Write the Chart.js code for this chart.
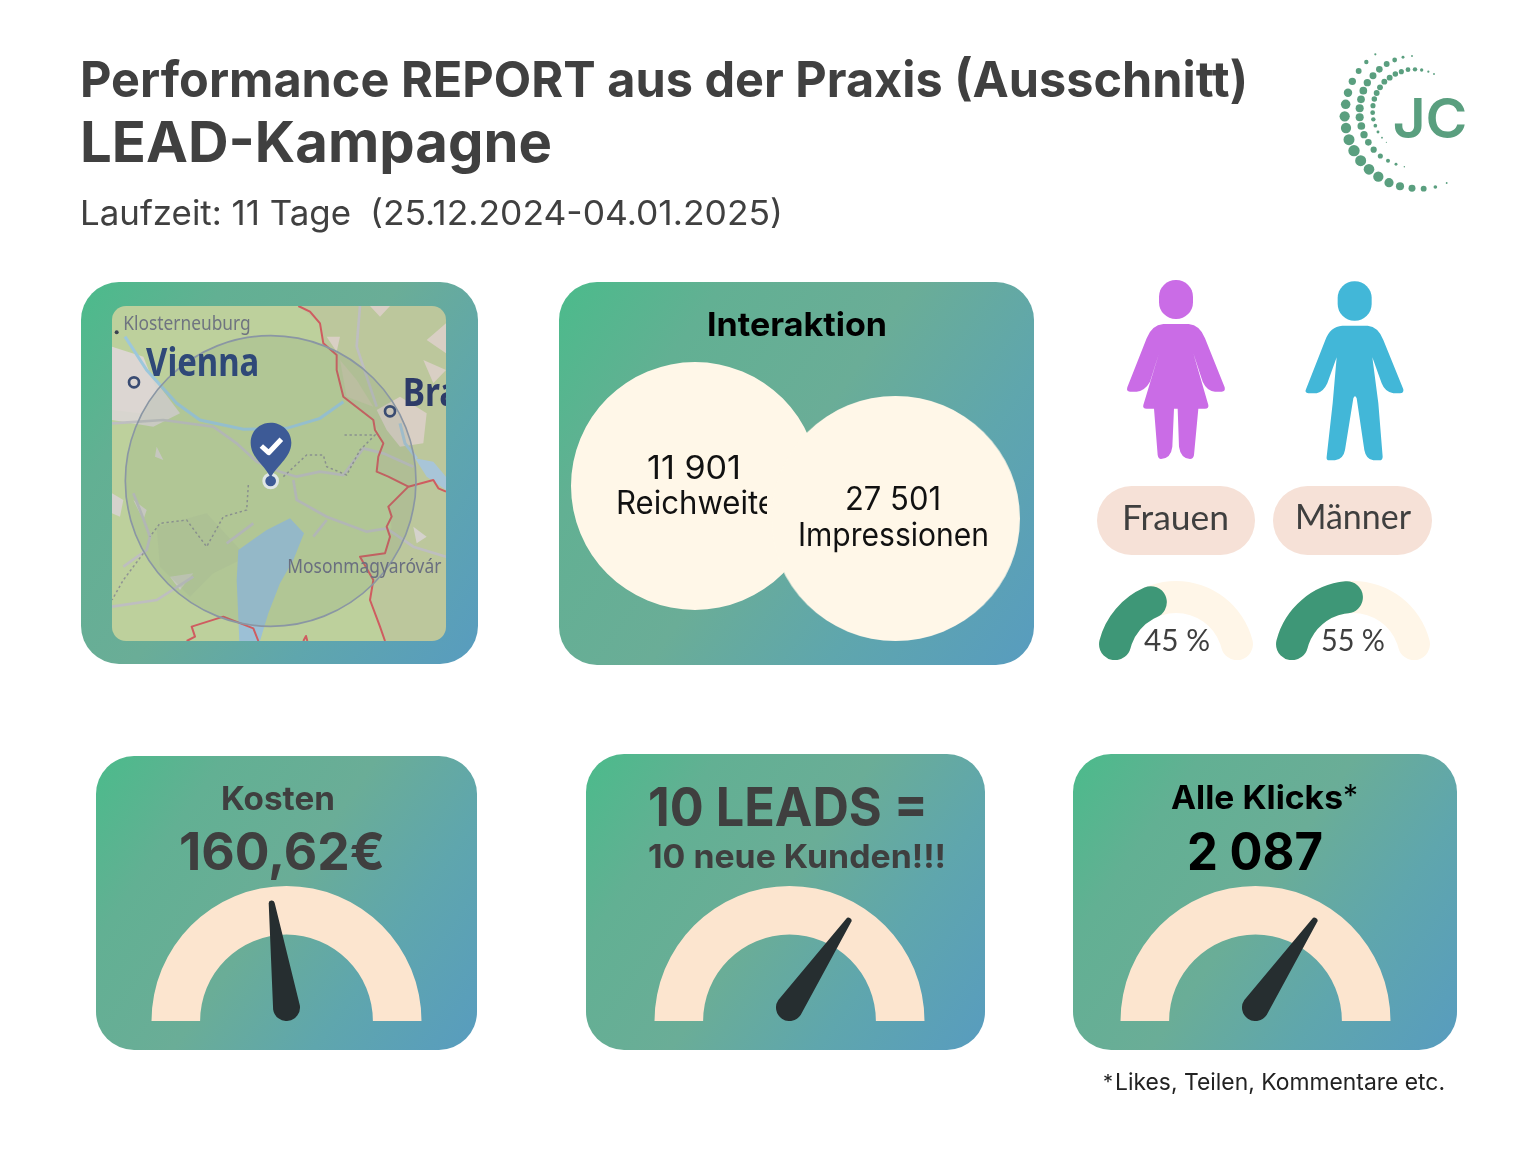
<!DOCTYPE html>
<html>
<head>
<meta charset="utf-8">
<script src="https://cdn.jsdelivr.net/npm/chart.js@4"></script>
<style>
html, body { margin: 0; background: #fff; }
#page { position: relative; width: 1536px; height: 1152px; overflow: hidden; }
.card { position: absolute; border-radius: 38px; background: linear-gradient(125deg, #4bbb8b 0%, #62b093 22%, #6aad97 48%, #5fa6ad 72%, #589cbf 100%); }
.pill { position: absolute; background: #f6e1d7; border-radius: 35px; }
.box { position: absolute; }
svg.layer { position: absolute; left: 0; top: 0; width: 1536px; height: 1152px; pointer-events: none; }
canvas { display: block; }
</style>
</head>
<body>
<div id="page"></div>
<script>
// data
var interaktionLabels = ['Reichweite', 'Impressionen'];
var interaktionValues = [11901, 27501];
var genderLabels = ['Frauen', 'Männer'];
var genderValues = [45, 55];
var gaugeLabels = ['Kosten', '10 LEADS', 'Alle Klicks'];
var gaugeNeedle = [45.5, 69, 69];

var FONT = 'Inter, "Noto Sans", sans-serif';
var ROUND = 'Lato, "Noto Sans", sans-serif';
var page = document.getElementById('page');
var NS = 'http://www.w3.org/2000/svg';

function card(x, y, w, h) {
    var d = document.createElement('div');
    d.className = 'card';
    d.style.cssText = 'left:' + x + 'px;top:' + y + 'px;width:' + w + 'px;height:' + h + 'px';
    page.appendChild(d);
}

function newLayer() {
    var s = document.createElementNS(NS, 'svg');
    s.setAttribute('class', 'layer');
    page.appendChild(s);
    return s;
}

// text with fixed baseline and width
function label(layer, str, x, y, size, weight, color, width, family) {
    var t = document.createElementNS(NS, 'text');
    t.setAttribute('x', x);
    t.setAttribute('y', y);
    t.setAttribute('font-size', size);
    t.setAttribute('font-weight', weight);
    t.setAttribute('fill', color);
    t.setAttribute('font-family', family || FONT);
    t.setAttribute('textLength', width);
    t.setAttribute('lengthAdjust', 'spacingAndGlyphs');
    t.style.whiteSpace = 'pre';
    t.textContent = str;
    layer.appendChild(t);
    return t;
}

function chartBox(x, y, w, h) {
    var d = document.createElement('div');
    d.className = 'box';
    d.style.cssText = 'left:' + x + 'px;top:' + y + 'px;width:' + w + 'px;height:' + h + 'px';
    var c = document.createElement('canvas');
    c.width = w;
    c.height = h;
    c.style.width = w + 'px';
    c.style.height = h + 'px';
    d.appendChild(c);
    page.appendChild(d);
    return c;
}

var needlePlugin = {
    id: 'needle',
    afterDatasetsDraw: function (chart, args, opts) {
        var arc = chart.getDatasetMeta(0).data[0];
        var ctx = chart.ctx;
        var a = (opts.value / 100) * Math.PI + Math.PI; // 0 = left, 100 = right
        var px = arc.x, py = arc.y - 13.5;
        var tx = px + Math.cos(a) * 105, ty = py + Math.sin(a) * 105;
        ctx.save();
        ctx.fillStyle = '#262e30';
        ctx.beginPath();
        ctx.arc(px, py, 13.5, a + Math.PI / 2, a - Math.PI / 2, false);
        ctx.arc(tx, ty, 3, a - Math.PI / 2, a + Math.PI / 2, false);
        ctx.closePath();
        ctx.fill();
        ctx.restore();
    }
};

function doughnut(canvas, data, colors, extra, needle) {
    var o = {
        responsive: false,
        animation: false,
        events: [],
        layout: { padding: 0 },
        plugins: { legend: { display: false }, tooltip: { enabled: false } }
    };
    for (var k in extra.options) o[k] = extra.options[k];
    if (needle !== undefined) o.plugins.needle = { value: needle };
    return new Chart(canvas, {
        type: 'doughnut',
        data: { datasets: [{ data: data, backgroundColor: colors, borderWidth: 0, borderRadius: extra.radius || 0 }] },
        options: o,
        plugins: needle !== undefined ? [needlePlugin] : []
    });
}

// cards
card(81, 282, 397, 382);
card(559, 282, 475, 383);
card(96, 756, 381, 294);
card(586, 754, 399, 296);
card(1073, 754, 384, 296);

// map image (background illustration)
var mapHolder = document.createElement('div');
mapHolder.className = 'box';
mapHolder.style.cssText = 'left:112px;top:306px;width:334px;height:335px;border-radius:14px;overflow:hidden';
mapHolder.innerHTML =
'<svg width="334" height="335" viewBox="96 78 1002 1005" style="display:block">' +
'<g style="filter:blur(1.8px)">' +
'<rect x="96" y="78" width="1002" height="1005" fill="#bdd09c"/>' +
// east side tint
'<path d="M655 78L720 130L730 190L770 225L790 350L880 420L910 490L890 570L985 620L925 680L935 740L915 820L840 830L880 900L870 960L915 1083L1098 1083L1098 78Z" fill="#bcc79c"/>' +
'<path d="M96 200L170 240L240 320L300 400L220 440L96 420Z" fill="#d8d5cf"/>' +
'<path d="M96 200L190 230L230 330L180 400L96 390Z" fill="#dcd6d2"/>' +
'<path d="M870 78L930 78L900 110ZM1040 180L1098 130L1098 220ZM1030 240L1098 270L1060 310ZM740 170L780 170L770 215ZM890 390L960 350L1040 400L1030 490L960 500L920 450Z" fill="#d9cfc4"/>' +
'<path d="M780 240L830 300L880 380L800 350Z" fill="#c8c7a8"/>' +
'<path d="M96 640L130 660L120 710L96 700ZM160 660L200 690L190 720ZM230 500L250 540L225 530ZM270 890L340 880L300 930ZM1000 740L1040 770L1010 790Z" fill="#d5d2cc"/>' +
'<path d="M230 740L380 700L500 830L400 880L330 950L240 860Z" fill="#acc096" opacity=".3"/>' +
// lake
'<path d="M475 810L560 750L630 715L672 760L640 840L600 910L565 1000L540 1083L478 1083L470 900Z" fill="#9cc0d6"/>' +
'<path d="M1005 535L1060 545L1098 590L1098 630L1040 590Z" fill="#a8c5d8"/>' +
// river
'<path d="M135 170L200 270L290 370L360 420L490 448L620 445L720 415L790 365" fill="none" stroke="#9cc7dc" stroke-width="9"/>' +
'<path d="M960 430L975 490L1010 535" fill="none" stroke="#a8c5d8" stroke-width="9"/>' +
// roads
'<g fill="none" stroke="#bebec0" stroke-width="8">' +
'<path d="M96 430L250 420L400 440L470 490L530 545L600 575L650 590L720 575L790 585L850 505L910 520L1000 560"/>' +
'<path d="M640 600L650 660L740 710L860 755L920 745L1000 800L1098 830"/>' +
'<path d="M160 640L180 690L210 770L200 810L130 860M96 980L230 960L340 890"/>' +
'<path d="M840 78L830 200L860 290L890 380"/>' +
'<path d="M520 730L440 790M740 720L700 770"/>' +
'</g>' +
'<g fill="none" stroke="#8f9294" stroke-width="4.5" stroke-dasharray="7 8">' +
'<path d="M610 590L680 525L730 525L740 560L800 585L840 510L885 465L790 465"/>' +
'<path d="M505 615L500 690L430 710L380 800L320 720L240 730L210 770"/>' +
'<path d="M190 820L130 900L96 960"/>' +
'</g>' +
// borders
'<g fill="none" stroke="#cf5c60" stroke-width="6" stroke-linejoin="round">' +
'<path d="M655 78L690 95L720 130L730 190L770 225L770 270L790 350L880 420L885 450L910 490L895 530L890 575L925 590L985 620L925 680L935 710L920 740L930 770L915 820L840 830L880 900L870 960L900 1040L915 1083"/>' +
'<path d="M985 620L1060 600L1075 625L1098 635"/>' +
'<path d="M320 1083L345 1070L335 1040L430 1010L520 1045L535 1083"/>' +
'<path d="M670 1083L678 1068L682 1083"/>' +
'</g>' +
// range circle
'<circle cx="572" cy="603" r="436" fill="#64806e" fill-opacity=".13" stroke="#8a96a4" stroke-width="5"/>' +
// map labels
'<circle cx="110" cy="157" r="6" fill="#3a4252"/>' +
'<text x="130" y="150" font-family="Noto Sans, sans-serif" font-size="58" fill="#6f7480" textLength="382" lengthAdjust="spacingAndGlyphs">Klosterneuburg</text>' +
'<text x="198" y="288" font-family="Noto Sans, sans-serif" font-weight="700" font-size="118" fill="#2f4878" textLength="340" lengthAdjust="spacingAndGlyphs">Vienna</text>' +
'<text x="968" y="377" font-family="Noto Sans, sans-serif" font-weight="700" font-size="118" fill="#2d3b68" textLength="170" lengthAdjust="spacingAndGlyphs">Bra</text>' +
'<text x="622" y="880" font-family="Noto Sans, sans-serif" font-size="58" fill="#6a6f80" textLength="462" lengthAdjust="spacingAndGlyphs">Mosonmagyaróvár</text>' +
'<circle cx="162" cy="307" r="15" fill="none" stroke="#3a4c72" stroke-width="8"/>' +
'<circle cx="930" cy="394" r="15" fill="none" stroke="#3a4c72" stroke-width="8"/>' +
// pin
'<circle cx="572" cy="603" r="25" fill="#dfe6e6"/>' +
'<circle cx="572" cy="603" r="16" fill="#3d5a96"/>' +
'<path d="M572 595C560 560 512 535 512 488C512 452 540 428 572 428C604 428 634 452 634 488C634 535 584 560 572 595Z" fill="#3d5a96"/>' +
'<path d="M544 498L566 518L604 478" fill="none" stroke="#fff" stroke-width="15" stroke-linejoin="round"/>' +
'</g></svg>';
page.appendChild(mapHolder);

// Interaktion: the first circle's label is cut where the second circle begins
doughnut(chartBox(571, 362, 248, 248), [interaktionValues[0]], ['#fff7e8'], { options: { cutout: 0 } });
var underLayer = newLayer();
underLayer.innerHTML = '<defs><clipPath id="cutText"><rect x="560" y="480" width="207" height="50"/></clipPath></defs>';
label(underLayer, '11 901', 647, 479, 32, 400, '#111', 94);
label(underLayer, interaktionLabels[0], 616, 514, 32, 400, '#111', 160).setAttribute('clip-path', 'url(#cutText)');
var second = chartBox(773, 396, 245, 245);
second.parentNode.style.transform = 'scaleX(1.016)';
doughnut(second, [interaktionValues[1]], ['#fff7e8'], { options: { cutout: 0 } });

// pills
[[1097, 158], [1273, 159]].forEach(function (p) {
    var d = document.createElement('div');
    d.className = 'pill';
    d.style.cssText = 'left:' + p[0] + 'px;top:486px;width:' + p[1] + 'px;height:69px';
    page.appendChild(d);
});

// small half gauges
var smallX = [1097, 1274];
genderValues.forEach(function (v, i) {
    var ring = { rotation: -90, circumference: 180, cutout: '59.5%' };
    doughnut(chartBox(smallX[i], 581, 158, 79), [100], ['#fff6e8'], { radius: 16, options: ring });
    doughnut(chartBox(smallX[i], 581, 158, 79), [v, 100 - v], ['#3e9777', 'rgba(0,0,0,0)'], { radius: 16, options: ring });
});

// big gauges
var bigX = [151, 654, 1120];
gaugeNeedle.forEach(function (v, i) {
    doughnut(chartBox(bigX[i], 886, 271, 135), [100], ['#fce5cf'], { options: { rotation: -90, circumference: 180, cutout: '64%' } }, v);
});

// person icons and logo
var icons = document.createElement('div');
icons.className = 'box';
icons.style.cssText = 'left:1090px;top:270px;width:350px;height:200px';
icons.innerHTML =
'<svg width="350" height="200" viewBox="0 0 1050 600" style="display:block">' +
'<rect x="207" y="30" width="102" height="117" rx="50" fill="#ca6ce6"/>' +
'<path fill="#ca6ce6" d="M220 162L296 162Q330 165 345 205L404 352Q407 365 395 365L375 365Q350 362 338 335L310 250L355 405Q357 416 345 416L325 416L312 555Q310 567 300 567Q272 565 267 530L263 416L252 416L247 530Q243 565 213 567Q205 567 203 555L192 416L170 416Q157 416 160 405L207 250L180 335Q165 362 140 365L120 365Q108 365 112 352L170 205Q185 165 220 162Z"/>' +
'<rect x="743" y="34" width="102" height="118" rx="50" fill="#42b7d8"/>' +
'<path fill="#42b7d8" d="M757 167L833 167Q865 170 880 210L940 358Q942 370 930 370L910 370Q885 366 875 340L847 262L865 400L878 560Q878 571 868 571L850 571Q828 568 823 540L800 385Q795 372 790 385L765 540Q760 568 735 571L718 571Q708 571 710 560L728 400L740 262L712 340Q700 366 680 370L655 370Q643 368 648 358L706 210Q720 170 757 167Z"/>' +
'</svg>';
page.appendChild(icons);

var logoDots = [[166,43,3],[139,66,6],[116,93,8],[97,124,10],[84,158,11.5],[77,193,13],[74,229,14],[78,264,14],[87,299,15],[102,332,15.5],[122,362,15],[147,388,14.5],[175,410,14],[207,428,12.5],[240,439,11],[276,445,9.5],[311,446,8],[346,441,5],[380,429,2.5],
[276,48,2.5],[249,52,4],[224,60,6.5],[200,72,8],[178,88,9],[159,107,9.5],[142,128,10],[130,152,10.5],[123,178,10.5],[119,205,11],[119,232,11],[124,258,10.5],[132,284,10],[145,307,9],[161,329,8.5],[181,348,7],[204,362,5.5],[228,373,4],[253,380,2],
[342,102,2.5],[325,95,3],[305,90,4.5],[285,88,6],[264,89,6.5],[244,95,7],[226,102,7.5],[209,113,8],[193,125,8],[180,142,8],[170,159,8],[163,177,7.5],[159,197,7],[158,218,6.5],[160,238,6],[166,257,5],[174,276,4],[186,293,2.5],[199,307,1.5]];
var logo = document.createElement('div');
logo.className = 'box';
logo.style.cssText = 'left:1320px;top:40px;width:160px;height:160px';
logo.innerHTML = '<svg width="160" height="160" viewBox="0 0 480 480" style="display:block">' +
    logoDots.map(function (d) { return '<circle cx="' + d[0] + '" cy="' + d[1] + '" r="' + (d[2] * 1.1) + '" fill="#5a9f7f"/>'; }).join('') +
    '<text x="218" y="295" font-family="Inter, sans-serif" font-size="166" font-weight="600" fill="#5a9f7f" textLength="224" lengthAdjust="spacingAndGlyphs">JC</text></svg>';
page.appendChild(logo);

// all remaining text on top
var textLayer = newLayer();
label(textLayer, 'Performance REPORT aus der Praxis (Ausschnitt)', 80, 97, 50, 700, '#404040', 1168);
label(textLayer, 'LEAD-Kampagne', 80, 162, 56, 700, '#404040', 472);
label(textLayer, 'Laufzeit: 11 Tage', 80, 225, 34, 400, '#404040', 271);
label(textLayer, '(25.12.2024-04.01.2025)', 370, 225, 34, 400, '#404040', 413);

label(textLayer, 'Interaktion', 707, 336, 33, 700, '#000', 180);
label(textLayer, '27 501', 845, 510, 32, 400, '#111', 96);
label(textLayer, interaktionLabels[1], 798, 546, 32, 400, '#111', 191);

label(textLayer, genderLabels[0], 1122, 530, 35, 400, '#3f3f3f', 107, ROUND);
label(textLayer, genderLabels[1], 1295, 529, 35, 400, '#3f3f3f', 116, ROUND);
label(textLayer, genderValues[0] + ' %', 1144, 651, 30, 400, '#3f3f3f', 66, ROUND);
label(textLayer, genderValues[1] + ' %', 1321, 651, 30, 400, '#3f3f3f', 64, ROUND);

label(textLayer, gaugeLabels[0], 221, 810, 33, 700, '#3f3f3f', 114);
label(textLayer, '160,62€', 179, 870, 52, 700, '#3f3f3f', 206);
label(textLayer, gaugeLabels[1] + ' =', 648, 826, 54, 700, '#3f3f3f', 280);
label(textLayer, '10 neue Kunden!!!', 648, 868, 33, 700, '#3f3f3f', 298);
label(textLayer, gaugeLabels[2], 1171, 809, 33, 700, '#000', 172);
label(textLayer, '*', 1343, 806, 30, 400, '#000', 15);
label(textLayer, '2 087', 1187, 870, 52, 700, '#000', 136);
label(textLayer, '*', 1103, 1089, 20, 400, '#222', 10);
label(textLayer, 'Likes, Teilen, Kommentare etc.', 1115, 1090, 23, 400, '#222', 330);
</script>
</body>
</html>
